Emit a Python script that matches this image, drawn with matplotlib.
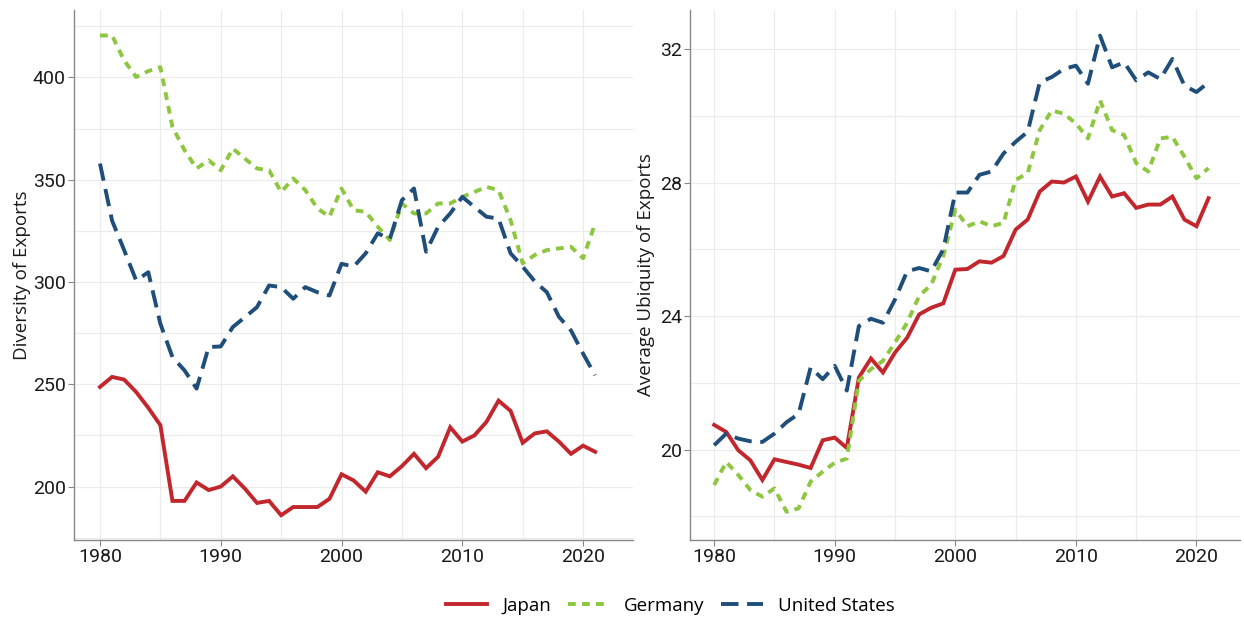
import numpy as np
import matplotlib
matplotlib.use("Agg")
import matplotlib.pyplot as plt

plt.rcParams['font.family'] = ['Open Sans', 'DejaVu Sans']

years = list(range(1980, 2022))

# Diversity of exports (number of products)
japan_div = [248.7, 253.6, 252.3, 246.2, 238.5, 230.0, 193.0, 193.0, 202.0, 198.3,
             200.0, 205.0, 199.0, 192.0, 193.0, 186.0, 190.0, 190.0, 190.0, 194.0,
             206.0, 203.0, 197.5, 207.0, 205.0, 210.0, 216.0, 209.0, 214.6, 229.0,
             222.0, 225.0, 231.6, 242.0, 237.0, 221.4, 226.0, 227.0, 222.0, 216.0,
             220.0, 217.0]
germany_div = [420.5, 420.5, 408.3, 400.2, 403.1, 405.0, 375.8, 364.4, 355.5, 359.5,
               354.6, 365.2, 360.3, 355.5, 354.6, 344.0, 350.6, 344.9, 336.0, 331.9,
               345.7, 335.1, 334.3, 327.0, 320.5, 338.4, 333.5, 333.5, 338.4, 338.4,
               341.6, 344.0, 346.5, 344.9, 330.2, 309.1, 313.2, 315.6, 316.4, 317.2,
               311.6, 328.6]
us_div = [357.9, 330.0, 315.6, 300.7, 304.8, 279.6, 263.3, 256.8, 247.9, 268.2,
          268.5, 278.0, 282.8, 287.7, 298.3, 297.5, 291.8, 297.5, 295.0, 293.4,
          308.9, 307.5, 314.0, 323.8, 321.0, 340.0, 345.7, 314.8, 327.0, 333.5,
          341.6, 336.7, 331.9, 331.0, 314.0, 307.5, 300.3, 295.0, 283.0, 276.3,
          265.0, 254.4]

# Average ubiquity of exports
japan_ubi = [20.74, 20.53, 19.98, 19.68, 19.09, 19.71, 19.63, 19.55, 19.45, 20.28,
             20.36, 20.05, 22.16, 22.73, 22.31, 22.91, 23.35, 24.05, 24.25, 24.38,
             25.39, 25.41, 25.64, 25.60, 25.80, 26.59, 26.89, 27.73, 28.03, 28.00,
             28.18, 27.43, 28.18, 27.58, 27.68, 27.24, 27.34, 27.34, 27.58, 26.89,
             26.69, 27.53]
germany_ubi = [18.94, 19.63, 19.24, 18.79, 18.59, 18.84, 18.14, 18.24, 19.04, 19.34,
               19.61, 19.73, 22.06, 22.41, 22.66, 23.21, 23.80, 24.60, 24.94, 25.80,
               27.19, 26.69, 26.84, 26.69, 26.79, 28.08, 28.28, 29.57, 30.16, 30.06,
               29.77, 29.32, 30.46, 29.57, 29.42, 28.58, 28.33, 29.32, 29.37, 28.77,
               28.13, 28.43]
us_ubi = [20.13, 20.48, 20.33, 20.25, 20.23, 20.48, 20.82, 21.07, 22.46, 22.11,
          22.51, 21.77, 23.70, 23.92, 23.80, 24.50, 25.34, 25.44, 25.34, 26.00,
          27.70, 27.70, 28.23, 28.33, 28.87, 29.22, 29.52, 31.00, 31.16, 31.40,
          31.50, 30.96, 32.40, 31.45, 31.60, 31.06, 31.30, 31.10, 31.70, 30.90,
          30.71, 31.00]

labels = ['Japan', 'Germany', 'United States']
colors = ['#c1272d', '#8dc63f', '#1f4e7a']
styles = ['-', (0, (2.0, 1.6)), (0, (4.5, 2.2))]

fig = plt.figure(figsize=(12.44, 6.19), dpi=100)
ax1 = fig.add_axes([0.0595, 0.128, 0.449, 0.856])
ax2 = fig.add_axes([0.5547, 0.128, 0.442, 0.856])

panels = [
    (ax1, [japan_div, germany_div, us_div], 'Diversity of Exports',
     (174, 433), np.arange(200, 401, 50), np.arange(175, 426, 25),
     (1977.85, 2024.1), -0.077),
    (ax2, [japan_ubi, germany_ubi, us_ubi], 'Average Ubiquity of Exports',
     (17.3, 33.17), np.arange(20, 33, 4), np.arange(18, 33, 2),
     (1978.0, 2023.6), -0.063),
]

tick_font = ['Liberation Sans Narrow', 'Roboto', 'DejaVu Sans']

for ax, series, ylabel, ylim, yticks, ygrid, xlim, label_x in panels:
    lines = []
    for vals, lab, c, ls in zip(series, labels, colors, styles):
        ln, = ax.plot(years, vals, color=c, linestyle=ls, lw=2.8, label=lab,
                      solid_joinstyle='miter', dash_capstyle='butt')
        lines.append(ln)
    ax.set_xlim(*xlim)
    ax.set_ylim(*ylim)
    ax.set_xticks([1980, 1990, 2000, 2010, 2020])
    ax.set_xticks(np.arange(1980, 2021, 5), minor=True)
    ax.set_yticks(yticks)
    ax.set_yticks(ygrid, minor=True)
    ax.grid(True, which='both', color='#ebebeb', lw=0.8)
    ax.set_axisbelow(True)
    for s in ['top', 'right']:
        ax.spines[s].set_visible(False)
    for s in ['left', 'bottom']:
        ax.spines[s].set_color('#888888')
        ax.spines[s].set_linewidth(1.0)
    ax.tick_params(which='major', length=4, color='#888888', labelsize=14,
                   labelcolor='#1a1a1a', pad=2)
    ax.tick_params(which='minor', length=0)
    for t in ax.get_xticklabels() + ax.get_yticklabels():
        t.set_family(tick_font)
    ax.set_ylabel(ylabel, fontsize=13.5, color='#1a1a1a')
    ax.yaxis.set_label_coords(label_x, 0.5)

fig.legend(handles=lines, loc='center', bbox_to_anchor=(0.5386, 0.021),
           ncol=3, frameon=False, fontsize=13.5, handlelength=2.2,
           columnspacing=0.9, handletextpad=0.8)

fig.savefig('out.png', dpi=100, facecolor='white')
